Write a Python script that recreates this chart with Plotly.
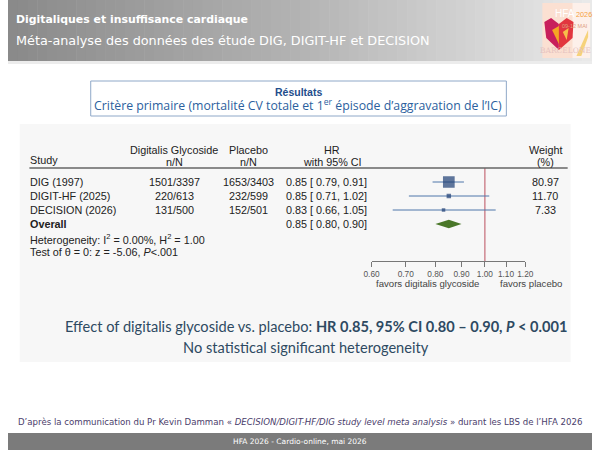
import math
import plotly.graph_objects as go

# ---------------- data ----------------
studies = ["DIG (1997)", "DIGIT-HF (2025)", "DECISION (2026)"]
digitalis_nN = ["1501/3397", "220/613", "131/500"]
placebo_nN = ["1653/3403", "232/599", "152/501"]
hr = [0.85, 0.85, 0.83]
ci_lo = [0.79, 0.71, 0.66]
ci_hi = [0.91, 1.02, 1.05]
weights = [80.97, 11.70, 7.33]
overall_hr = 0.85
overall_lo = 0.80
overall_hi = 0.90
tick_vals = [0.60, 0.70, 0.80, 0.90, 1.00, 1.10, 1.20]
tick_labels = ["0.60", "0.70", "0.80", "0.90", "1.00", "1.10", "1.20"]

# ---------------- geometry helpers ----------------
W, H = 600, 450
def px(x): return x / W
def py(y): return 1 - y / H

AX_L, AX_R = 373.5, 531.5
ROW0, ROWSTEP = 182, 14
AX_TOP, AX_BOT = 168, 261
y_top_idx = (AX_TOP - ROW0) / ROWSTEP
y_bot_idx = (AX_BOT - ROW0) / ROWSTEP
def row_px(i): return ROW0 + ROWSTEP * i

TXT = "#222222"
FF = "Liberation Sans, Arial, sans-serif"
FS = 10.8

fig = go.Figure()

rows = list(range(len(studies)))
for i in rows:
    fig.add_trace(go.Scatter(x=[ci_lo[i], ci_hi[i]], y=[i, i], mode="lines",
                             line=dict(color="#4f76aa", width=1), hoverinfo="skip",
                             showlegend=False))
fig.add_trace(go.Scatter(x=hr, y=rows, mode="markers",
                         marker=dict(symbol="square", size=[1.3 * math.sqrt(w) for w in weights],
                                     color="#1c3d73", line=dict(width=0)),
                         showlegend=False, hoverinfo="skip"))
oi = len(studies)
dh = 0.3
fig.add_trace(go.Scatter(x=[overall_lo, overall_hr, overall_hi, overall_hr, overall_lo],
                         y=[oi, oi - dh, oi, oi + dh, oi], mode="lines", fill="toself",
                         fillcolor="#4a7729", line=dict(width=0, color="#4a7729"),
                         showlegend=False, hoverinfo="skip"))

shapes = []
annotations = []

def ann(text, x, y, size=FS, color=TXT, anchor="left", family=FF, **kw):
    annotations.append(dict(text=text, x=px(x), y=py(y), xref="paper", yref="paper",
                            xanchor=anchor, yanchor="middle", showarrow=False, borderpad=0,
                            font=dict(size=size, color=color, family=family), **kw))

def rect(x0, y0, x1, y1, fill, line=None, lw=0, layer="below"):
    shapes.append(dict(type="rect", xref="paper", yref="paper", x0=px(x0), x1=px(x1),
                       y0=py(y1), y1=py(y0), fillcolor=fill,
                       line=dict(color=line or fill, width=lw), layer=layer))

def poly(points, fill, layer="above"):
    path = "M " + " L ".join(f"{px(a):.5f},{py(b):.5f}" for a, b in points) + " Z"
    shapes.append(dict(type="path", xref="paper", yref="paper", path=path,
                       fillcolor=fill, line=dict(width=0), layer=layer))

def mix(c0, c1, t):
    a = [int(c0[k:k + 2], 16) for k in (1, 3, 5)]
    b = [int(c1[k:k + 2], 16) for k in (1, 3, 5)]
    return "#" + "".join(f"{round(a[j] + (b[j] - a[j]) * t):02x}" for j in range(3))

# header gradient (thin strips)
NS = 60
for s in range(NS):
    t = s / (NS - 1)
    col = mix("#8a8a8a", "#b3b3b3", t * 2) if t < 0.5 else mix("#b3b3b3", "#e9e9e9", (t - 0.5) * 2)
    x0 = s * W / NS
    rect(x0, 0, min(W, x0 + W / NS + 0.6), 61, col)

# panel background
rect(12, 124, 578, 362, "#f7f7f7")
# bottom bar
rect(0, 433, 600, 450, "#7b7b7b")
# light line under header
rect(0, 61, 600, 64, "#ececec")

# results box
rect(85, 81, 512, 116, "rgba(0,0,0,0)", line="#8fa8c8", lw=1, layer="above")
ann("<b>Résultats</b>", 298, 92, size=10.5, color="#1f4e8c", anchor="center")
ann("Critère primaire (mortalité CV totale et 1<sup>er</sup> épisode d’aggravation de l’IC)",
    298, 105, size=12.3, color="#2c5f9e", anchor="center", family="Open Sans, sans-serif")

# header texts
ann("<b>Digitaliques et insuffisance cardiaque</b>", 7, 20, size=10.9, color="white",
    family="DejaVu Sans, sans-serif")
ann("Méta-analyse des données des étude DIG, DIGIT-HF et DECISION", 7, 40, size=12.8,
    color="white", family="DejaVu Sans, sans-serif")

# table headers
ann("Study", 22, 160)
ann("Digitalis Glycoside", 171, 150, anchor="center")
ann("n/N", 171, 162, anchor="center")
ann("Placebo", 247, 150, anchor="center")
ann("n/N", 247, 162, anchor="center")
ann("HR", 333, 150, anchor="center")
ann("with 95% CI", 333, 162, anchor="center")
ann("Weight", 552, 150, anchor="center")
ann("(%)", 552, 162, anchor="center")
shapes.append(dict(type="line", xref="paper", yref="paper", x0=px(22), x1=px(575),
                   y0=py(168), y1=py(168), line=dict(color="#666666", width=1.3)))

for i in rows:
    y = row_px(i)
    ann(studies[i], 22, y)
    ann(digitalis_nN[i], 171, y, anchor="center")
    ann(placebo_nN[i], 247, y, anchor="center")
    ann(f"{hr[i]:.2f} [ {ci_lo[i]:.2f}, {ci_hi[i]:.2f}]", 285, y)
    ann(f"{weights[i]:.2f}", 552, y, anchor="center")

yo = row_px(oi)
ann("<b>Overall</b>", 22, yo)
ann(f"{overall_hr:.2f} [ {overall_lo:.2f}, {overall_hi:.2f}]", 285, yo)
ann("Heterogeneity: I<sup>2</sup> = 0.00%, H<sup>2</sup> = 1.00", 22, yo + 15)
ann("Test of θ = 0: z = -5.06, <i>P</i><.001", 22, yo + 28)

shapes.append(dict(type="line", xref="x", yref="y", x0=1, x1=1, y0=y_top_idx, y1=y_bot_idx,
                   line=dict(color="#c56b78", width=1.2), layer="below"))

ann("favors digitalis glycoside", 431, 283, size=9.6, color="#444444", anchor="center")
ann("favors placebo", 537, 283, size=9.6, color="#444444", anchor="center")

ann("Effect of digitalis glycoside vs. placebo: <b>HR 0.85, 95% CI 0.80 – 0.90, <i>P</i> < 0.001</b>",
    316, 326, size=14.6, color="#2e4a62", anchor="center", family="Lato, sans-serif")
ann("No statistical significant heterogeneity", 306, 347, size=14.6, color="#2e4a62",
    anchor="center", family="Lato, sans-serif")

ann("D’après la communication du Pr Kevin Damman « <i>DECISION/DIGIT-HF/DIG study level meta analysis</i> » durant les LBS de l’HFA 2026",
    300, 422, size=8.6, color="#4a3d6b", anchor="center", family="DejaVu Sans, sans-serif")
ann("HFA 2026 - Cardio-online, mai 2026", 300, 441, size=7.5, color="white", anchor="center",
    family="DejaVu Sans, sans-serif")

# logo (approximation)
rect(549, 3, 598, 58, "#fbe0d2", layer="above")
rect(580, 3, 598, 58, "#fdf0ea", layer="above")
poly([(551, 22), (558, 18), (566, 24), (566, 50), (553, 38)], "#c81f5c")
poly([(566, 24), (574, 18), (581, 22), (580, 38), (566, 50)], "#e2363f")
poly([(559, 30), (566, 26), (566, 44)], "#f5a623")
poly([(570, 32), (576, 28), (574, 40)], "#f7c04a")
poly([(584, 56), (596, 30), (596, 37), (589, 56)], "#f6d27a")
ann("HFA", 561, 14, size=10, color="white", family="Liberation Sans, sans-serif")
ann("2026", 582.5, 15, size=7.3, color="#f5a040", family="Liberation Sans, sans-serif")
ann("09-12 MAI", 597, 26, size=5.5, color="#e0a080", anchor="right", family="Liberation Sans, sans-serif")
ann("BARCELONE", 573, 51, size=7.5, color="#e6c3c0", anchor="center", family="DejaVu Serif, serif")

fig.update_layout(
    width=W, height=H, margin=dict(l=0, r=0, t=0, b=0),
    paper_bgcolor="white", plot_bgcolor="rgba(0,0,0,0)",
    showlegend=False, shapes=shapes, annotations=annotations,
    xaxis=dict(domain=[px(AX_L), px(AX_R)], type="log",
               range=[math.log10(tick_vals[0]), math.log10(tick_vals[-1])],
               tickvals=tick_vals, ticktext=tick_labels, ticks="outside", ticklen=5,
               tickcolor="#777777", showline=True, linecolor="#777777", linewidth=1,
               showgrid=False, zeroline=False, tickfont=dict(size=8.3, color="#555555", family=FF),
               fixedrange=True),
    yaxis=dict(domain=[py(AX_BOT), py(AX_TOP)], range=[y_bot_idx, y_top_idx], visible=False,
               fixedrange=True),
)

fig.write_html(
    "out.html",
    config={"displayModeBar": False, "responsive": False},
    post_script=("document.body.style.margin='0';"
                 "document.documentElement.style.overflow='hidden';"),
)
